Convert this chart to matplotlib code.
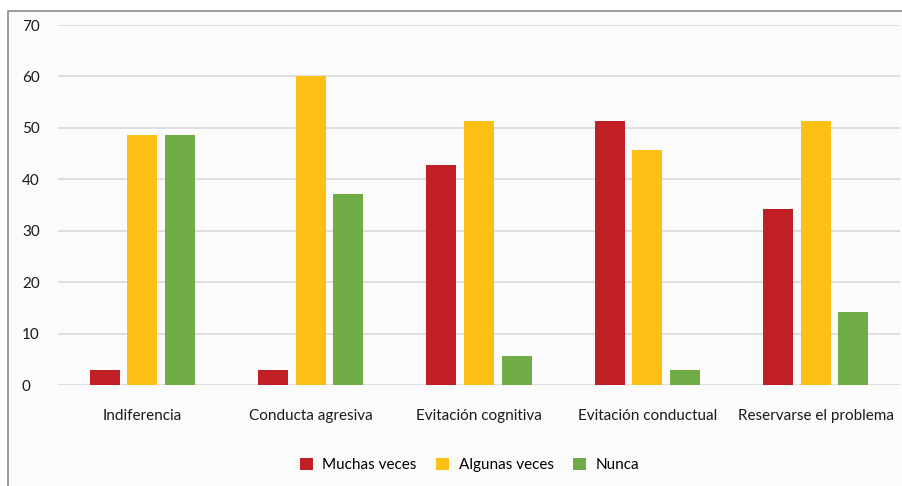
import numpy as np
import matplotlib.pyplot as plt
from matplotlib.patches import Rectangle

# Porcentajes por estrategia de afrontamiento
categorias = ['Indiferencia', 'Conducta agresiva', 'Evitación cognitiva',
              'Evitación conductual', 'Reservarse el problema']
muchas_veces = [2.86, 2.86, 42.86, 51.43, 34.29]
algunas_veces = [48.57, 60.0, 51.43, 45.71, 51.43]
nunca = [48.57, 37.14, 5.71, 2.86, 14.29]

series = [('Muchas veces', muchas_veces, '#C01F26'),
          ('Algunas veces', algunas_veces, '#FBBF15'),
          ('Nunca', nunca, '#6FAC46')]

plt.rcParams['font.family'] = ['Lato', 'DejaVu Sans']

fig = plt.figure(figsize=(9.03, 4.86), dpi=100)
fig.patch.set_facecolor('white')

# marco gris del gráfico
marco = Rectangle((8 / 903, -0.1), 1.2, 1 - 11 / 486 + 0.1,
                  transform=fig.transFigure, facecolor='#fbfbfb',
                  edgecolor='#8a8a8a', linewidth=1.2, zorder=-5)
fig.patches.append(marco)

ax = fig.add_axes([58 / 903, 1 - 385 / 486, 842 / 903, 360 / 486])
ax.set_zorder(2)
ax.set_facecolor('none')

x = np.arange(len(categorias))
ancho = 0.178
desplaz = 0.223
for i, (nombre, valores, color) in enumerate(series):
    ax.bar(x + (i - 1) * desplaz, valores, width=ancho, color=color,
           label=nombre, zorder=3)

ax.set_xlim(-0.5, len(categorias) - 0.5)
ax.set_ylim(0, 70)
ax.set_yticks(range(0, 71, 10))
ax.yaxis.grid(True, color='#d9d9d9', linewidth=1.2, zorder=0)
ax.set_axisbelow(True)
for s in ax.spines.values():
    s.set_visible(False)
ax.tick_params(axis='y', length=0, pad=26, labelsize=11, colors='#1a1a1a')
ax.tick_params(axis='x', length=0, pad=17, labelsize=11, colors='#1a1a1a')
ax.set_xticks(x)
ax.set_xticklabels(categorias)
for lbl in ax.get_yticklabels():
    lbl.set_horizontalalignment('left')

fig.legend(loc='center', bbox_to_anchor=(0.52, 1 - 465 / 486), ncol=3,
           frameon=False, fontsize=11, handlelength=0.85, handleheight=0.85,
           columnspacing=1.3, handletextpad=0.6)

fig.savefig('out.png', dpi=100, facecolor=fig.get_facecolor())
